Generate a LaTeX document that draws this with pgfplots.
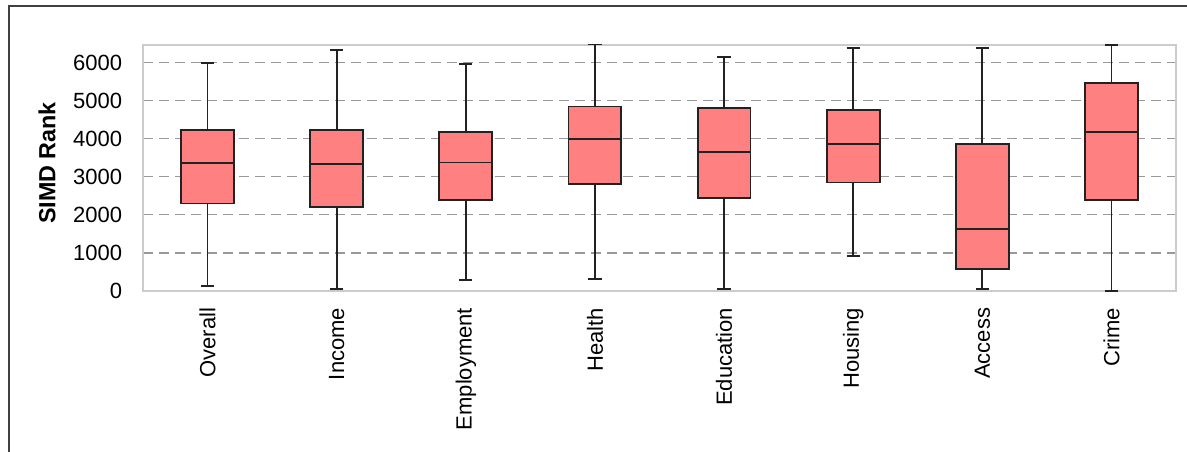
\documentclass[border=0pt]{standalone}
\usepackage{pgfplots}
\usepackage{pgfplotstable}
\pgfplotsset{compat=1.18}
\usepackage{fontspec}
\setmainfont{Liberation Sans}
\definecolor{boxfill}{HTML}{FF8080}
\definecolor{gridc}{HTML}{999999}
\definecolor{borderc}{HTML}{CCCCCC}
\definecolor{framec}{HTML}{404040}
\definecolor{edgec}{HTML}{222222}
\pgfplotstableread{
x lw q1 med q3 uw
0 140 2303 3373 4226 6000
1 55 2209 3340 4245 6342
2 290 2394 3380 4193 5975
3 325 2807 4000 4852 6480
4 55 2449 3660 4807 6160
5 913 2854 3862 4766 6390
6 45 579 1625 3862 6390
7 5 2402 4190 5474 6470
}\boxdata
\pgfplotsset{common/.style={
  at={(107.25pt,120.75pt)}, anchor=south west,
  scale only axis, width=774.75pt, height=184.5pt,
  xmin=-0.5, xmax=7.5, ymin=0, ymax=6470,
  enlargelimits=false,
}}
\begin{document}
\begin{tikzpicture}
\useasboundingbox (0,0) rectangle (890.25pt,339pt);
\draw[framec, line width=1.4pt] (6.75pt,-10pt) -- (6.75pt,334.5pt) -- (890.25pt,334.5pt);
\begin{axis}[
  common,
  ybar stacked, bar width=0.41,
  xtick={0,1,2,3,4,5,6,7},
  xticklabels={Overall,Income,Employment,Health,Education,Housing,Access,Crime},
  ytick={0,1000,2000,3000,4000,5000,6000},
  tick style={draw=none},
  ymajorgrids,
  major grid style={gridc, line width=0.8pt, dash pattern=on 7.5pt off 4.5pt},
  axis line style={borderc, line width=1.1pt},
  tick label style={font=\fontsize{16.5}{19}\selectfont},
  xticklabel style={rotate=90, anchor=east, inner xsep=12.5pt, inner ysep=0pt},
  yticklabel style={anchor=east, inner xsep=15.5pt, inner ysep=0pt},
  /pgf/number format/1000 sep={},
  /pgf/number format/assume math mode=true,
  ylabel={\bfseries SIMD Rank},
  ylabel style={font=\fontsize{17.5}{20}\selectfont, at={(rel axis cs:0,0.5)}, anchor=center, xshift=3.75pt, yshift=72pt},
]
\addplot[draw=none, fill=none] table[x=x, y=q1] {\boxdata};
\addplot[draw=edgec, fill=boxfill, line width=1.4pt] table[x=x, y expr=\thisrow{med}-\thisrow{q1}] {\boxdata};
\addplot[draw=edgec, fill=boxfill, line width=1.4pt] table[x=x, y expr=\thisrow{q3}-\thisrow{med}] {\boxdata};
\end{axis}
\begin{axis}[common, hide axis, clip=false]
\addplot[draw=none, mark=none, error bars/.cd, y dir=plus, y explicit,
  error bar style={draw=edgec, line width=1.3pt},
  error mark=|,
  error mark options={draw=edgec, line width=1.3pt, mark size=5pt}]
  table[x=x, y=q3, y error expr=\thisrow{uw}-\thisrow{q3}] {\boxdata};
\addplot[draw=none, mark=none, error bars/.cd, y dir=minus, y explicit,
  error bar style={draw=edgec, line width=1.3pt},
  error mark=|,
  error mark options={draw=edgec, line width=1.3pt, mark size=5pt}]
  table[x=x, y=q1, y error expr=\thisrow{q1}-\thisrow{lw}] {\boxdata};
\end{axis}
\end{tikzpicture}
\end{document}
